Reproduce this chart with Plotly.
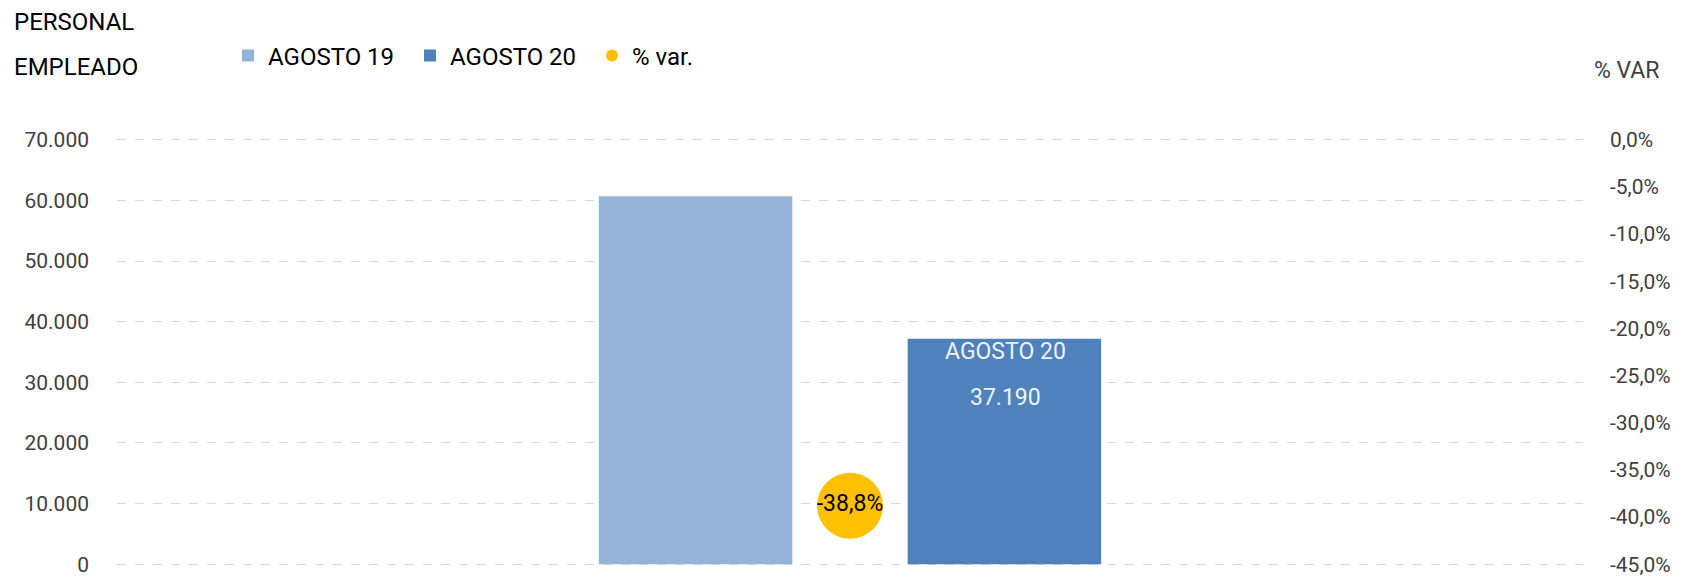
import plotly.graph_objects as go

# ---- data ----
categories = ["Personal empleado"]
series_names = ["AGOSTO 19", "AGOSTO 20", "% var."]
agosto19 = [60700]
agosto20 = [37190]
pct_var = [-0.388]
left_ticks = [0, 10000, 20000, 30000, 40000, 50000, 60000, 70000]
right_ticks = [-0.45, -0.40, -0.35, -0.30, -0.25, -0.20, -0.15, -0.10, -0.05, 0.0]
left_title = ["PERSONAL", "EMPLEADO"]
right_title = "% VAR"


def pct_txt(v):
    v = 0.0 if abs(v) < 1e-12 else v
    return f"{v * 100:.1f}%".replace(".", ",")


def num_txt(v):
    return f"{v:,.0f}".replace(",", ".")


FONT = "Roboto"
TICK_COLOR = "#404040"
OFF = 8  # page body margin
W, H = 1691 - OFF, 576 - OFF
# plot area in page pixels: x 117..1583, y 138..566
ml = 117 - OFF
mr = W - (1583 - OFF)
mt = 138 - OFF
mb = H - (566 - OFF)
PW, PH = W - ml - mr, H - mt - mb
EXT = 300  # small padding so edge gridlines are drawn
LMAX = 70000
slope = 0.45 / LMAX

fig = go.Figure()
fig.add_trace(go.Bar(
    x=categories, y=agosto19, name=series_names[0],
    marker=dict(color="#95B3D7", line=dict(width=0)),
))
fig.add_trace(go.Bar(
    x=categories, y=agosto20, name=series_names[1],
    marker=dict(color="#4F81BD", line=dict(width=0)),
))
fig.add_trace(go.Scatter(
    x=categories, y=pct_var, name=series_names[2], yaxis="y2",
    mode="markers+text", text=[pct_txt(v) for v in pct_var],
    textposition="middle center",
    textfont=dict(family=FONT, size=23, color="#000000"),
    marker=dict(color="#FFC000", size=66, symbol="circle"),
))

# data labels inside AGOSTO 20 bar
fig.add_annotation(x=categories[0], y=agosto20[0], xref="x", yref="y",
                   text=series_names[1], showarrow=False, xshift=155,
                   yanchor="middle", yshift=-13,
                   font=dict(family=FONT, size=23, color="#F2F2F2"))
fig.add_annotation(x=categories[0], y=agosto20[0], xref="x", yref="y",
                   text=num_txt(agosto20[0]), showarrow=False, xshift=155,
                   yanchor="middle", yshift=-59,
                   font=dict(family=FONT, size=23, color="#F2F2F2"))


def px_x(p):  # page pixel from left
    return (p - OFF - ml) / PW


def px_y(p):  # page pixel from top
    return (H - (p - OFF) - mb) / PH


fig.add_annotation(x=px_x(12), y=px_y(22), xref="paper", yref="paper", text=left_title[0],
                   showarrow=False, xanchor="left", yanchor="middle",
                   font=dict(family=FONT, size=24, color="#000000"))
fig.add_annotation(x=px_x(12), y=px_y(67), xref="paper", yref="paper", text=left_title[1],
                   showarrow=False, xanchor="left", yanchor="middle",
                   font=dict(family=FONT, size=24, color="#000000"))
fig.add_annotation(x=px_x(1592), y=px_y(70), xref="paper", yref="paper", text=right_title,
                   showarrow=False, xanchor="left", yanchor="middle",
                   font=dict(family=FONT, size=23, color=TICK_COLOR))

fig.update_layout(
    width=W, height=H,
    margin=dict(l=ml, r=mr, t=mt, b=mb, pad=0, autoexpand=False),
    paper_bgcolor="white", plot_bgcolor="white",
    separators=",.",
    barmode="group", bargap=0.5787, bargroupgap=0.3734,
    font=dict(family=FONT, size=21, color=TICK_COLOR),
    showlegend=True,
    legend=dict(orientation="h", x=px_x(228), xanchor="left",
                y=px_y(56), yanchor="middle", entrywidth=137,
                font=dict(family=FONT, size=24, color="#000000"),
                itemsizing="constant", bgcolor="rgba(0,0,0,0)", traceorder="normal"),
    xaxis=dict(showticklabels=False, showgrid=False, zeroline=False, showline=False,
               range=[-0.5, 0.5]),
    yaxis=dict(range=[-EXT, LMAX + EXT], tickvals=left_ticks, tickformat=",d",
               showgrid=True, gridcolor="#D9D9D9", griddash="dash", gridwidth=1,
               zeroline=False, showline=False, ticks="", ticklabelstandoff=27,
               ticklabeloverflow="allow",
               tickfont=dict(family=FONT, size=21, color=TICK_COLOR)),
    yaxis2=dict(range=[-0.45 - EXT * slope, EXT * slope], tickvals=right_ticks,
                ticktext=[pct_txt(v) for v in right_ticks],
                overlaying="y", side="right", showgrid=False, zeroline=False,
                showline=False, ticks="", ticklabelstandoff=26,
                ticklabeloverflow="allow",
                tickfont=dict(family=FONT, size=21, color=TICK_COLOR)),
)

fig.write_html("out.html")
